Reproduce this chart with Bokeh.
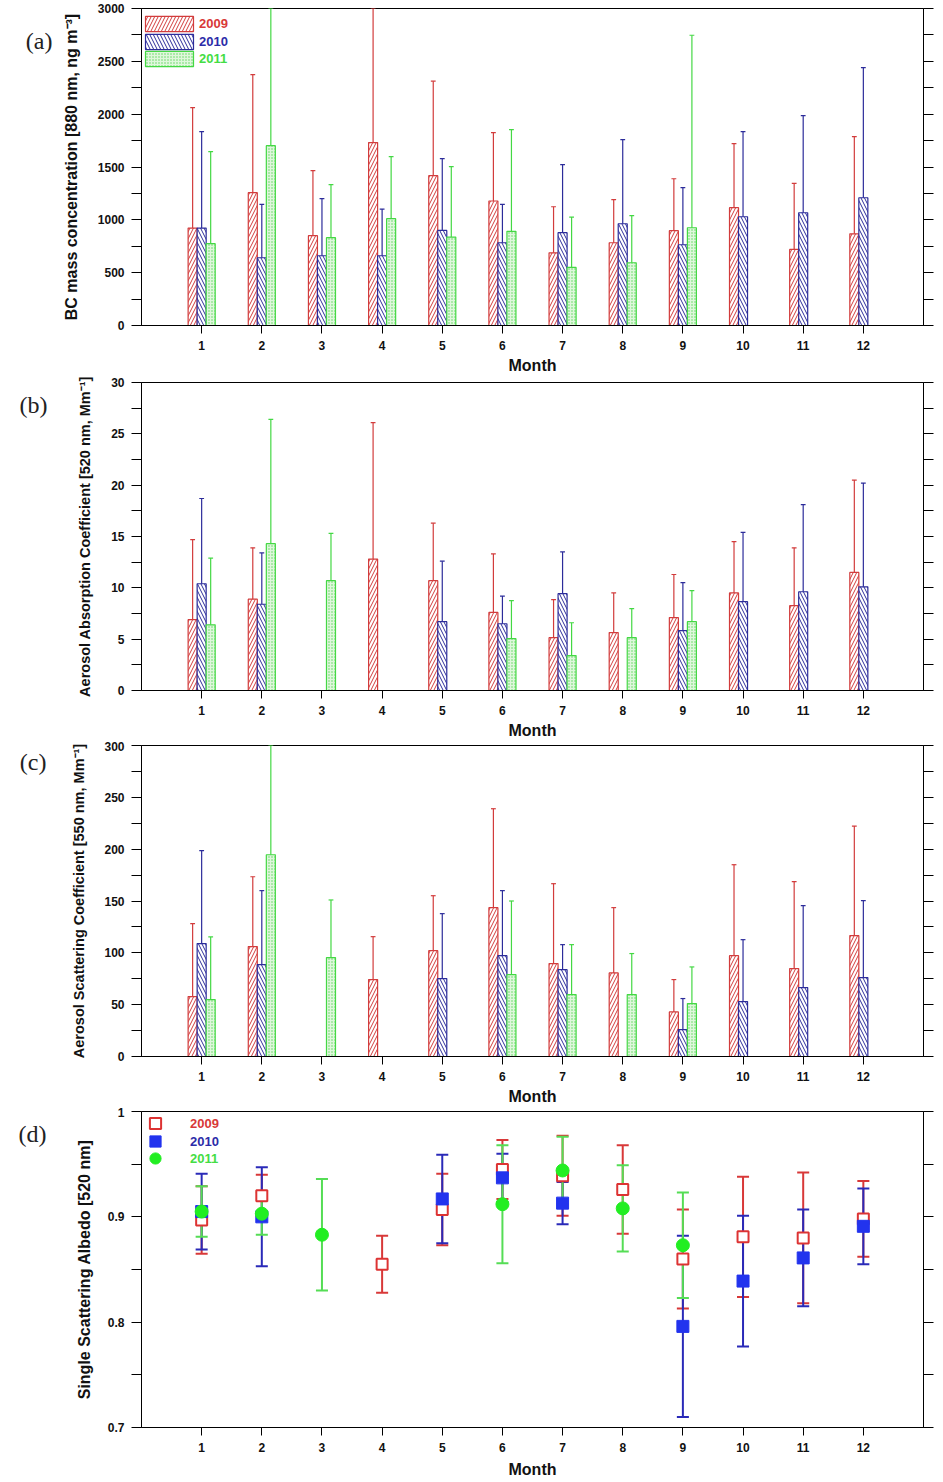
from bokeh.plotting import figure
from bokeh.models import (Range1d, FixedTicker, LinearAxis, Legend, LegendItem,
                          ColumnDataSource, CustomJSTickFormatter)
from bokeh.layouts import column
from bokeh.embed import file_html
from bokeh.resources import INLINE

months = list(range(1, 13))
years = ["2009", "2010", "2011"]

# (a) BC mass concentration [ng m-3]: monthly mean and standard deviation
bc_2009 = [922, 1257, 850, 1731, 1418, 1178, 688, 783, 897, 1115, 720, 868]
bc_2009_sd = [1140, 1118, 615, 1269, 894, 647, 436, 408, 492, 606, 625, 919]
bc_2010 = [922, 641, 660, 660, 900, 783, 878, 963, 764, 1029, 1067, 1209]
bc_2010_sd = [913, 505, 540, 442, 679, 363, 644, 796, 540, 806, 919, 1232]
bc_2011 = [774, 1702, 831, 1011, 837, 891, 550, 594, 925, None, None, None]
bc_2011_sd = [871, 1298, 502, 587, 666, 963, 476, 445, 1822, None, None, None]

# (b) Aerosol absorption coefficient [Mm-1]
ab_2009 = [6.9, 8.9, None, 12.8, 10.7, 7.6, 5.15, 5.64, 7.1, 9.5, 8.26, 11.5]
ab_2009_sd = [7.8, 5.0, None, 13.3, 5.6, 5.7, 3.7, 3.86, 4.2, 5.0, 5.64, 9.0]
ab_2010 = [10.4, 8.4, None, None, 6.7, 6.5, 9.43, None, 5.83, 8.65, 9.62, 10.1]
ab_2010_sd = [8.3, 5.0, None, None, 5.9, 2.7, 4.07, None, 4.67, 6.75, 8.48, 10.1]
ab_2011 = [6.4, 14.3, 10.7, None, None, 5.05, 3.4, 5.15, 6.7, None, None, None]
ab_2011_sd = [6.5, 12.1, 4.6, None, None, 3.7, 3.2, 2.82, 3.02, None, None, None]

# (c) Aerosol scattering coefficient [Mm-1]
sc_2009 = [57.8, 106, None, 74.2, 102.1, 143.6, 89.6, 80.6, 43, 97.3, 84.8, 116.6]
sc_2009_sd = [70.4, 67.4, None, 41.4, 53.0, 95.4, 77.1, 63.0, 31.2, 87.7, 83.8, 105.7]
sc_2010 = [108.9, 88.7, None, None, 75.2, 97.3, 83.8, None, 26, 53, 66.5, 76.1]
sc_2010_sd = [89.6, 71.3, None, None, 62.6, 62.7, 24.1, None, 29.9, 59.7, 79.0, 74.2]
sc_2011 = [54.9, 194.6, 95.4, None, None, 79, 59.7, 59.7, 51.1, None, None, None]
sc_2011_sd = [60.4, 105.4, 55.6, None, None, 71, 48.2, 39.6, 35.3, None, None, None]

# (d) Single scattering albedo
ssa_2009 = [0.897, 0.920, None, 0.855, 0.907, 0.945, 0.939, 0.926, 0.860, 0.881, 0.880, 0.898]
ssa_2009_sd = [0.032, 0.020, None, 0.027, 0.034, 0.028, 0.038, 0.042, 0.047, 0.057, 0.062, 0.036]
ssa_2010 = [0.905, 0.900, None, None, 0.917, 0.937, 0.913, None, 0.796, 0.839, 0.861, 0.891]
ssa_2010_sd = [0.036, 0.047, None, None, 0.042, 0.023, 0.020, None, 0.086, 0.062, 0.046, 0.036]
ssa_2011 = [0.905, 0.903, 0.883, None, None, 0.912, 0.944, 0.908, 0.873, None, None, None]
ssa_2011_sd = [0.024, 0.020, 0.053, None, None, 0.056, 0.032, 0.041, 0.050, None, None, None]

RED = "#d23c3c"
BLUE = "#2c2c9a"
GREEN = "#44d844"
LEG_COL = {"2009": "#d83838", "2010": "#2c2ca8", "2011": "#44dd44"}
FONT = "Liberation Sans"
W = 943


def base_fig(h, top, bottom, left, right, ymin, ymax, yticks, yminor, ylabel, ylab_standoff,
             ylab_size="16px", yfmt=None):
    p = figure(width=W, height=h, x_range=Range1d(0, 13), y_range=Range1d(ymin, ymax),
               output_backend="svg", toolbar_location=None,
               min_border_top=top, min_border_bottom=bottom,
               min_border_left=left, min_border_right=right)
    p.xgrid.visible = False
    p.ygrid.visible = False
    p.outline_line_color = "black"
    p.outline_line_width = 1
    p.background_fill_color = "white"
    p.border_fill_color = "white"

    xa = p.xaxis[0]
    xa.ticker = FixedTicker(ticks=months)
    xa.major_tick_out = 8
    xa.major_tick_in = 0
    xa.minor_tick_out = 0
    xa.minor_tick_in = 0
    xa.major_label_standoff = 7
    xa.major_label_text_font = FONT
    xa.major_label_text_font_style = "bold"
    xa.major_label_text_font_size = "12px"
    xa.major_label_text_color = "#111111"
    xa.axis_label = "Month"
    xa.axis_label_text_font = FONT
    xa.axis_label_text_font_style = "bold"
    xa.axis_label_text_font_size = "16px"
    xa.axis_label_text_color = "#111111"
    xa.axis_label_standoff = 4
    xa.axis_line_color = "black"
    xa.major_tick_line_color = "black"

    ya = p.yaxis[0]
    ya.ticker = FixedTicker(ticks=yticks, minor_ticks=yminor)
    ya.major_tick_out = 10
    ya.major_tick_in = 0
    ya.minor_tick_out = 10
    ya.minor_tick_in = 0
    ya.major_label_standoff = 7
    ya.major_label_text_font = FONT
    ya.major_label_text_font_style = "bold"
    ya.major_label_text_font_size = "12px"
    ya.major_label_text_color = "#111111"
    ya.axis_label = ylabel
    ya.axis_label_text_font = FONT
    ya.axis_label_text_font_style = "bold"
    ya.axis_label_text_font_size = ylab_size
    ya.axis_label_text_color = "#111111"
    ya.axis_label_standoff = int(ylab_standoff)
    if yfmt is not None:
        ya.major_label_overrides = yfmt

    ra = LinearAxis(ticker=FixedTicker(ticks=yticks, minor_ticks=yminor),
                    formatter=CustomJSTickFormatter(code="return ''"),
                    major_tick_out=10, major_tick_in=0, minor_tick_out=10, minor_tick_in=0,
                    major_label_standoff=0)
    p.add_layout(ra, "right")
    return p


def add_letter(p, text, yval, standoff):
    # panel letter drawn as the single label of an extra, invisible left axis
    ax = LinearAxis(ticker=FixedTicker(ticks=[yval], minor_ticks=[]),
                    formatter=CustomJSTickFormatter(code="return '%s'" % text),
                    axis_line_color=None, major_tick_line_color=None,
                    minor_tick_line_color=None, major_tick_out=0, major_tick_in=0,
                    minor_tick_out=0, minor_tick_in=0, major_label_standoff=standoff,
                    major_label_text_font="Liberation Serif",
                    major_label_text_font_size="24px", major_label_text_color="#222222")
    p.add_layout(ax, "left")


BAR_STYLE = {
    "2009": dict(line_color=RED, fill_color="white", hatch_pattern="/", hatch_color=RED,
                 hatch_scale=7, hatch_weight=1),
    "2010": dict(line_color=BLUE, fill_color="white", hatch_pattern="\\", hatch_color=BLUE,
                 hatch_scale=7, hatch_weight=1),
    "2011": dict(line_color=GREEN, fill_color="#dff7dc", hatch_pattern=".", hatch_color="#5cd65c",
                 hatch_scale=3, hatch_weight=1),
}
ERR_COL = {"2009": RED, "2010": BLUE, "2011": GREEN}
OFFSETS = [-0.15, 0.0, 0.15]


def bar_panel(p, data, legend_pos=None):
    rends = {}
    for k, (yr, (vals, sds)) in enumerate(zip(years, data)):
        xs, tops, ups = [], [], []
        for m, v, s in zip(months, vals, sds):
            if v is None:
                continue
            xs.append(m + OFFSETS[k])
            tops.append(v)
            ups.append(v + s)
        src = ColumnDataSource(dict(x=xs, top=tops, up=ups,
                                    c0=[x - 0.04 for x in xs], c1=[x + 0.04 for x in xs]))
        r = p.vbar(x="x", top="top", bottom=0, width=0.15, source=src, line_width=1.2,
                   **BAR_STYLE[yr])
        p.segment(x0="x", y0="top", x1="x", y1="up", source=src, line_color=ERR_COL[yr],
                  line_width=1.2)
        p.segment(x0="c0", y0="up", x1="c1", y1="up", source=src, line_color=ERR_COL[yr],
                  line_width=1.2)
        rends[yr] = r
    if legend_pos is not None:
        x0, ytop, fh = legend_pos
        for i, yr in enumerate(years):
            area_top = ytop + i * 17.5 - 1.9
            leg = Legend(items=[LegendItem(label=yr, renderers=[rends[yr]])],
                         location=(x0, round(fh - area_top - 19)), glyph_width=60,
                         glyph_height=19, label_height=19, label_standoff=0, padding=0,
                         spacing=0, margin=0, border_line_color=None, background_fill_alpha=0,
                         label_text_color=LEG_COL[yr], label_text_font=FONT,
                         label_text_font_style="bold", label_text_font_size="13px")
            p.add_layout(leg)


# ---------- (a) ----------
pa = base_fig(376, 8, 51, 141, 20, 0, 3000, list(range(0, 3001, 500)),
              list(range(250, 3000, 500)), "BC mass concentration [880 nm, ng m\u207b\u00b3]", 15)
bar_panel(pa, [(bc_2009, bc_2009_sd), (bc_2010, bc_2010_sd), (bc_2011, bc_2011_sd)],
          legend_pos=(-2, 8, 317))
add_letter(pa, "(a)", 2690, 7)

# ---------- (b) ----------
pb = base_fig(365, 6, 51, 135, 14, 0, 30, [0, 5, 10, 15, 20, 25, 30],
              [2.5, 7.5, 12.5, 17.5, 22.5, 27.5],
              "Aerosol Absorption Coefficient [520 nm, Mm\u207b\u00b9]", 15, ylab_size="14.5px")
bar_panel(pb, [(ab_2009, ab_2009_sd), (ab_2010, ab_2010_sd), (ab_2011, ab_2011_sd)])
add_letter(pb, "(b)", 27.8, 27)

# ---------- (c) ----------
pc = base_fig(366, 4, 51, 138, 17, 0, 300, [0, 50, 100, 150, 200, 250, 300],
              [25, 75, 125, 175, 225, 275],
              "Aerosol Scattering Coefficient [550 nm, Mm\u207b\u00b9]", 14, ylab_size="14.5px")
bar_panel(pc, [(sc_2009, sc_2009_sd), (sc_2010, sc_2010_sd), (sc_2011, sc_2011_sd)])
add_letter(pc, "(c)", 284, 22)

# ---------- (d) ----------
pd_ = base_fig(375, 4, 55, 137, 12, 0.7, 1.0, [0.7, 0.8, 0.9, 1.0], [0.75, 0.85, 0.95],
               "Single Scattering Albedo [520 nm]", 12, yfmt={1: "1"})
pd_.xaxis[0].axis_label_standoff = 6

ssa_data = [(ssa_2009, ssa_2009_sd), (ssa_2010, ssa_2010_sd), (ssa_2011, ssa_2011_sd)]
ERR_D = {"2009": "#d83838", "2010": "#2a2ab8", "2011": "#55dd55"}
srcs = {}
for yr, (vals, sds) in zip(years, ssa_data):
    xs, ys, lo, hi = [], [], [], []
    for m, v, s in zip(months, vals, sds):
        if v is None:
            continue
        xs.append(m)
        ys.append(v)
        lo.append(v - s)
        hi.append(v + s)
    srcs[yr] = ColumnDataSource(dict(x=xs, y=ys, lo=lo, hi=hi,
                                     c0=[x - 0.1 for x in xs], c1=[x + 0.1 for x in xs]))
for yr in years:
    s = srcs[yr]
    pd_.segment(x0="x", y0="lo", x1="x", y1="hi", source=s, line_color=ERR_D[yr], line_width=2)
    pd_.segment(x0="c0", y0="lo", x1="c1", y1="lo", source=s, line_color=ERR_D[yr], line_width=2)
    pd_.segment(x0="c0", y0="hi", x1="c1", y1="hi", source=s, line_color=ERR_D[yr], line_width=2)

r09 = pd_.scatter(x="x", y="y", source=srcs["2009"], marker="square", size=11,
                  fill_color="white", line_color="#dd3333", line_width=2)
r10 = pd_.scatter(x="x", y="y", source=srcs["2010"], marker="square", size=12,
                  fill_color="#2233ee", line_color="#2233ee", line_width=1)
r11 = pd_.scatter(x="x", y="y", source=srcs["2011"], marker="circle", size=13,
                  fill_color="#22ee22", line_color="#22ee22", line_width=1)
for i, (yr, r) in enumerate(zip(years, [r09, r10, r11])):
    center = 12 + i * 17.5
    leg = Legend(items=[LegendItem(label=yr, renderers=[r])],
                 location=(0, round(316 - center - 14)), glyph_width=28, glyph_height=28,
                 label_height=28, label_standoff=21, padding=0, spacing=0, margin=0,
                 border_line_color=None, background_fill_alpha=0,
                 label_text_color=LEG_COL[yr], label_text_font=FONT,
                 label_text_font_style="bold", label_text_font_size="13px")
    pd_.add_layout(leg)
add_letter(pd_, "(d)", 0.979, 26)

layout = column(pa, pb, pc, pd_, spacing=0)
open("out.html", "w").write(file_html(layout, INLINE))
